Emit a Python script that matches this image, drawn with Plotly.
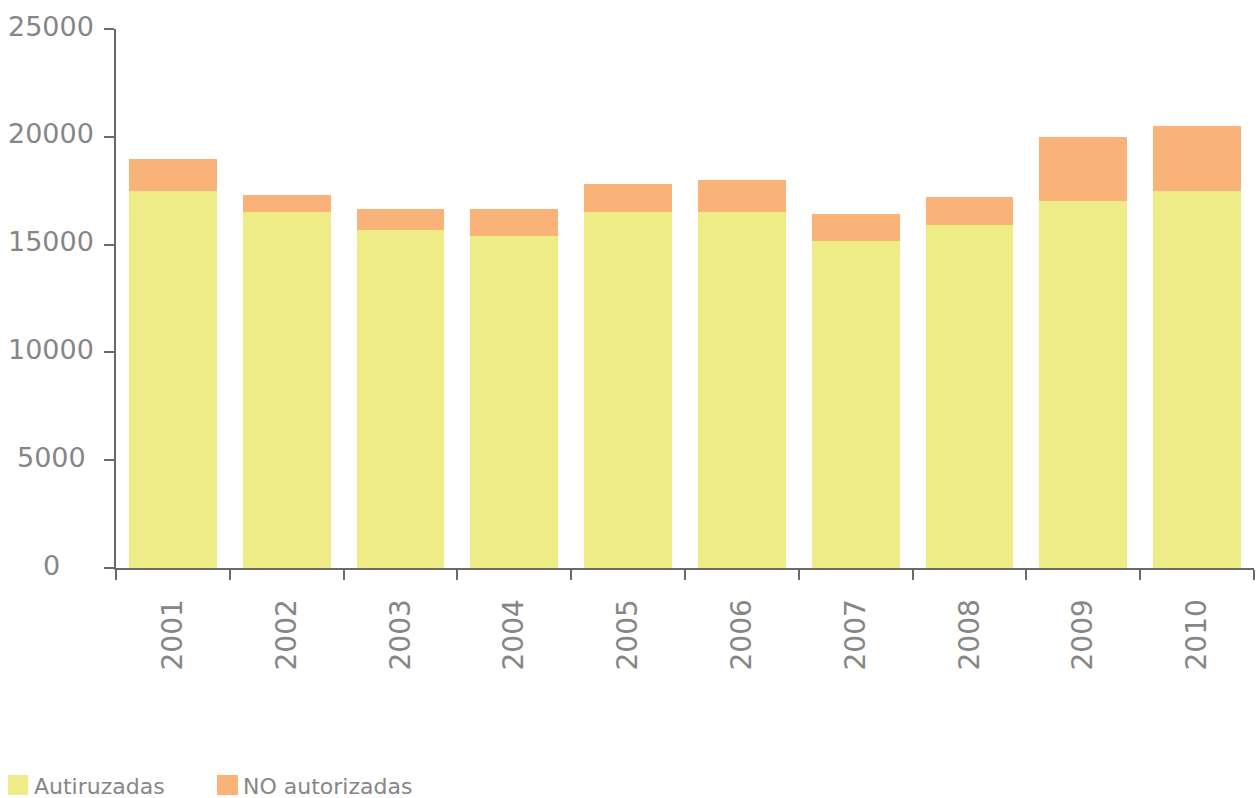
import plotly.graph_objects as go

years = ["2001", "2002", "2003", "2004", "2005", "2006", "2007", "2008", "2009", "2010"]
autorizadas = [17500, 16500, 15700, 15400, 16500, 16500, 15150, 15900, 17000, 17500]
no_autorizadas = [1450, 800, 950, 1250, 1300, 1500, 1250, 1300, 3000, 3000]
y_ticks = [0, 5000, 10000, 15000, 20000, 25000]
y_tick_labels = ["0", "5000", "10000", "15000", "20000", "25000"]
series_names = ["Autiruzadas", "NO autorizadas"]
colors = ["#EEEC87", "#F9B378"]

W, H = 1260, 798
L, R, T, B = 116, 6, 29, 230
pw = W - L - R
ph = H - T - B

FONT = "DejaVu Sans"
TXT = "#868686"
AX = "#6a6a6a"

fig = go.Figure()
fig.add_trace(go.Bar(x=years, y=autorizadas, name=series_names[0],
                     marker=dict(color=colors[0], line=dict(width=0)), showlegend=False))
fig.add_trace(go.Bar(x=years, y=no_autorizadas, name=series_names[1],
                     marker=dict(color=colors[1], line=dict(width=0)), showlegend=False))

def px_x(px):
    return (px - L) / pw

def px_y(py):
    return (H - B - py) / ph

annotations = []
for v, t in zip(y_ticks, y_tick_labels):
    annotations.append(dict(x=px_x(51), xref="paper", y=v, yref="y", text=t,
                            showarrow=False, xanchor="center", yanchor="middle",
                            yshift=3, font=dict(family=FONT, size=27, color=TXT)))

shapes = []
legend_items = [(8, 28, 34), (217, 238, 243)]
for (x0, x1, tx), name, c in zip(legend_items, series_names, colors):
    shapes.append(dict(type="rect", xref="paper", yref="paper",
                       x0=px_x(x0), x1=px_x(x1), y0=px_y(795), y1=px_y(775),
                       fillcolor=c, line=dict(width=0)))
    annotations.append(dict(x=px_x(tx), xref="paper", y=px_y(786), yref="paper",
                            text=name, showarrow=False, xanchor="left", yanchor="middle",
                            borderpad=0, xshift=-1,
                            font=dict(family=FONT, size=22, color=TXT)))

fig.update_layout(
    width=W, height=H,
    margin=dict(l=L, r=R, t=T, b=B),
    paper_bgcolor="white", plot_bgcolor="white",
    barmode="stack", bargap=0.23,
    font=dict(family=FONT, color=TXT),
    showlegend=False,
    annotations=annotations,
    shapes=shapes,
)
fig.update_xaxes(type="category", range=[-0.5, 9.5], showline=True, linecolor=AX, linewidth=2,
                 ticks="outside", tickson="boundaries", ticklen=10, tickwidth=2, tickcolor=AX,
                 tickangle=-90, tickfont=dict(family=FONT, size=28, color=TXT),
                 ticklabelstandoff=18, showgrid=False, zeroline=False)
fig.update_yaxes(range=[0, 25000], tickvals=y_ticks, showticklabels=False,
                 showline=True, linecolor=AX, linewidth=2,
                 ticks="outside", ticklen=10, tickwidth=2, tickcolor=AX,
                 showgrid=False, zeroline=False)

fig.write_html("out.html", config={"displayModeBar": False},
               post_script="document.body.style.margin='0';")
